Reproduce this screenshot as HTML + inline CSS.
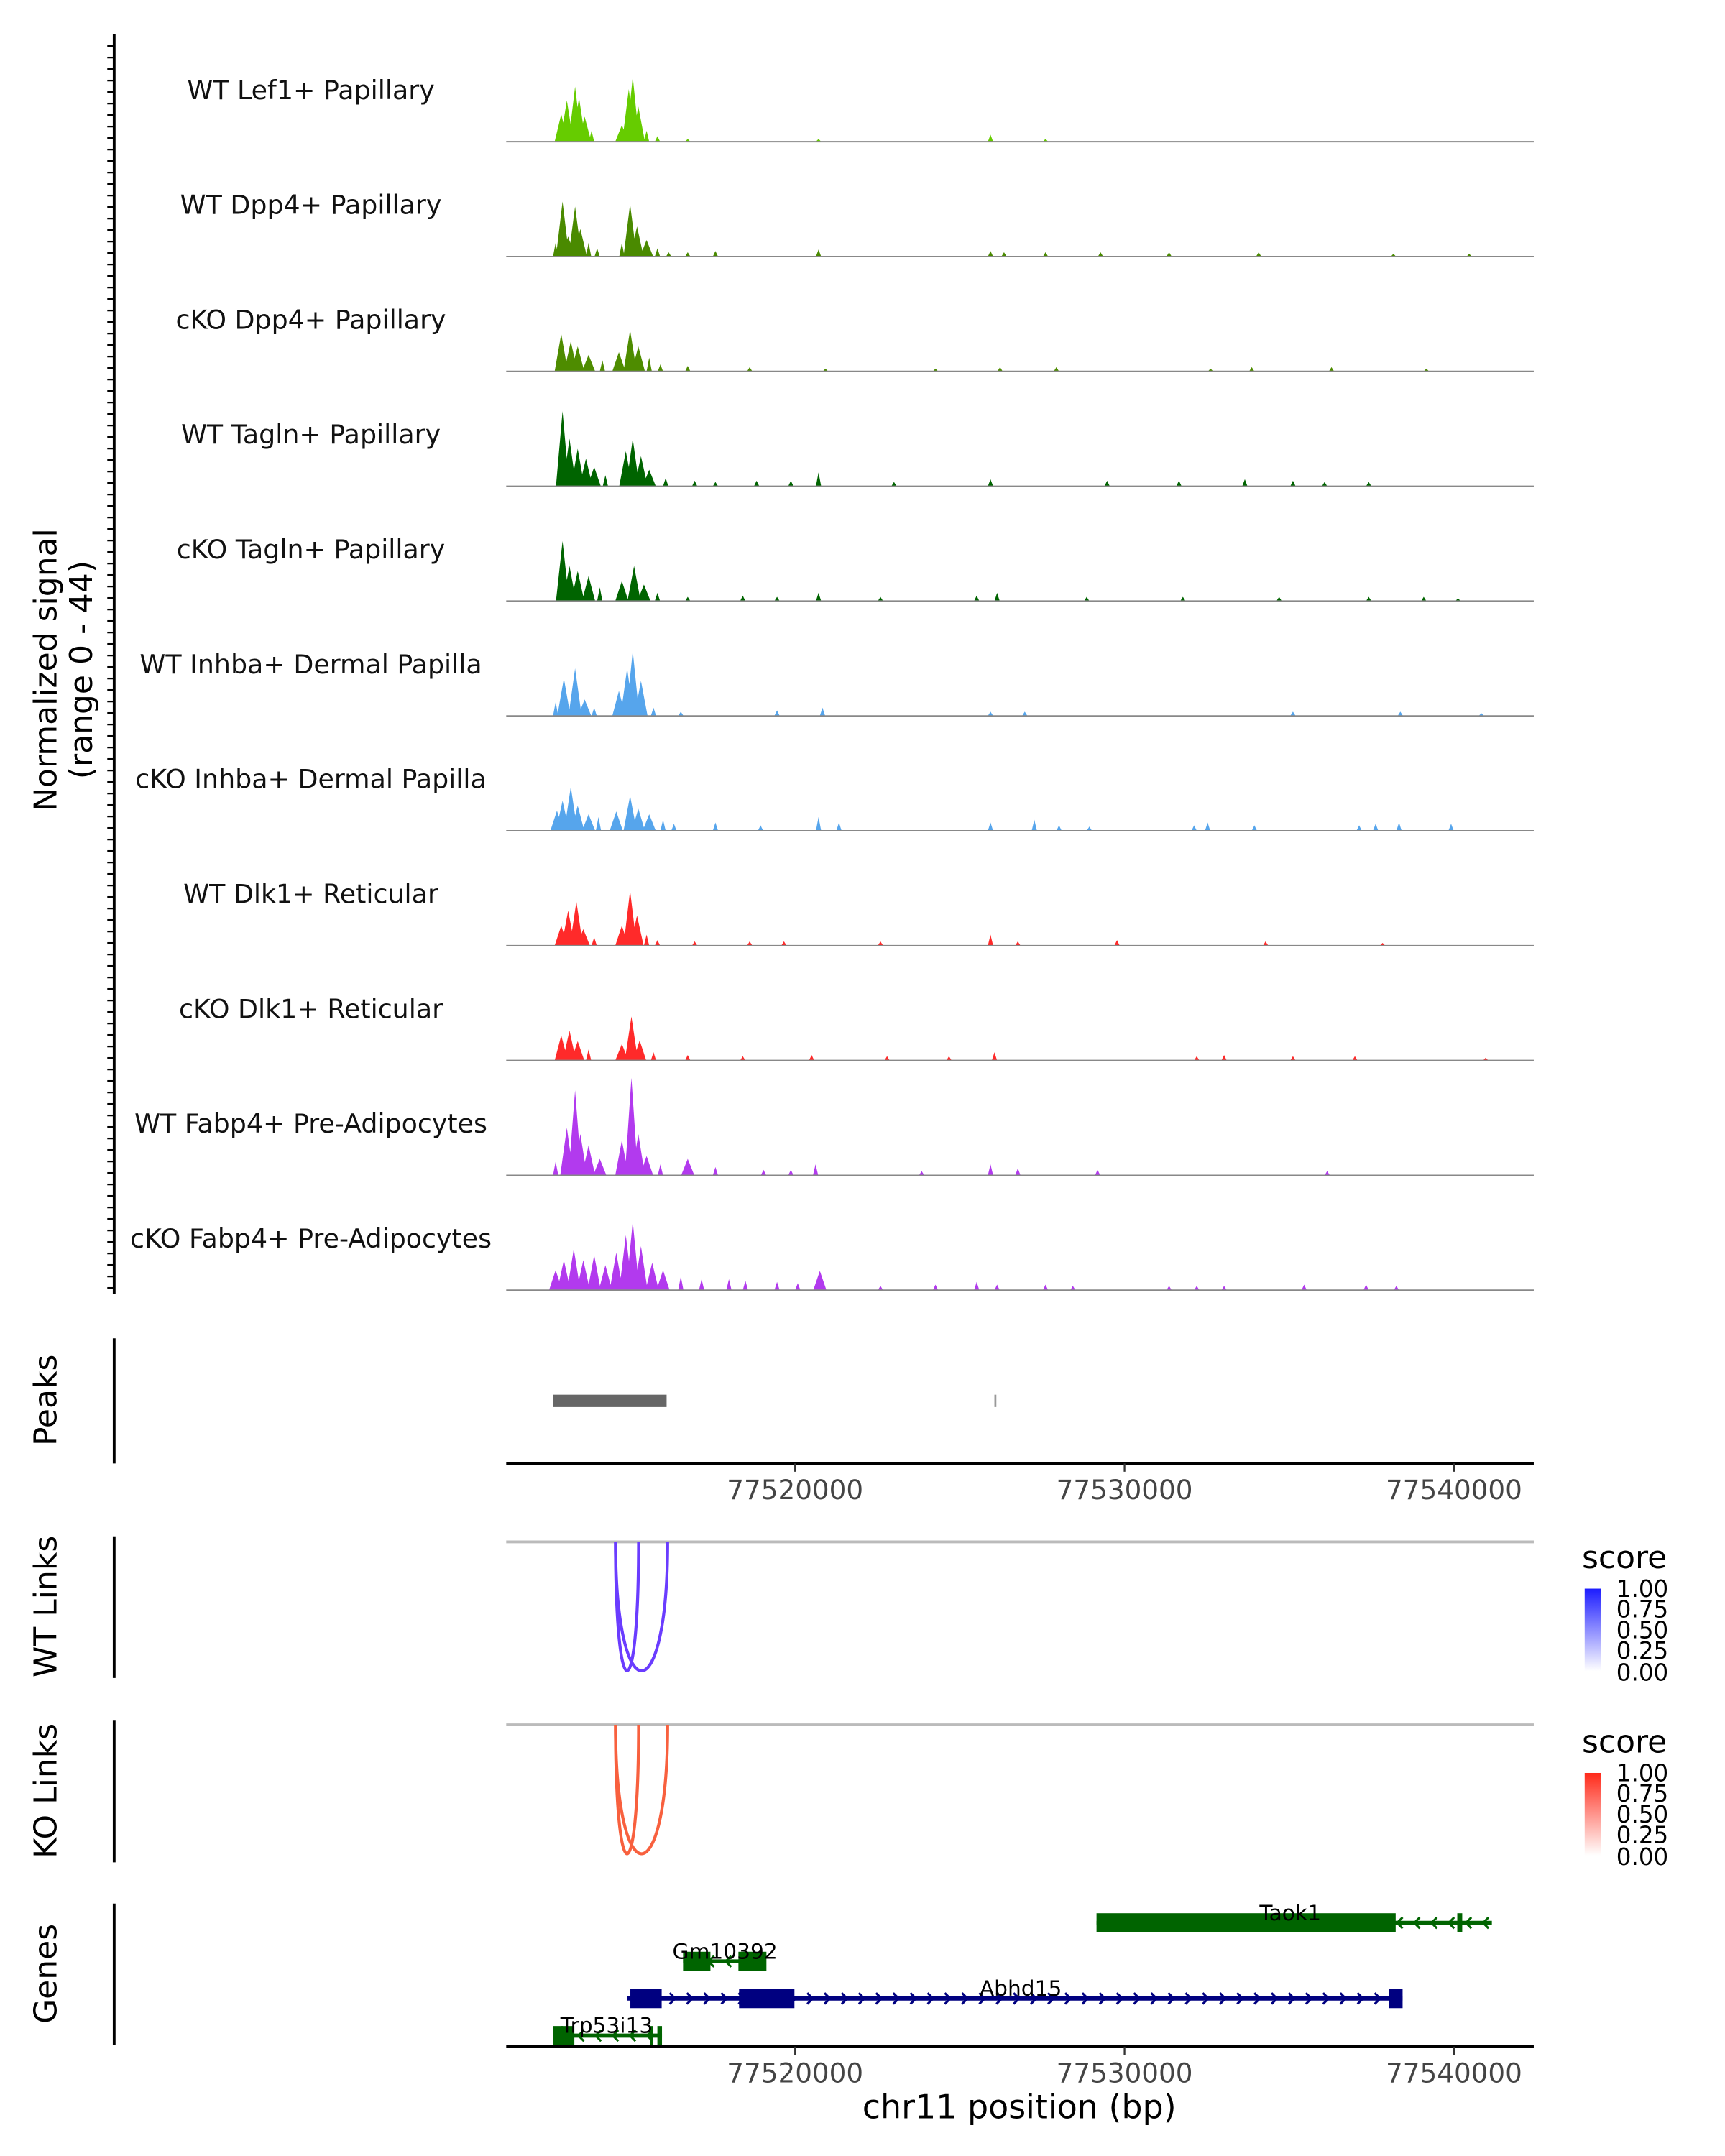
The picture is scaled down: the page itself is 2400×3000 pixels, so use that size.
<!DOCTYPE html>
<html><head><meta charset="utf-8"><style>
html,body{margin:0;padding:0;background:#fff;width:2400px;height:3000px;overflow:hidden;}
svg{display:block;font-family:"DejaVu Sans","Liberation Sans",sans-serif;}
</style></head><body>
<svg id="chart" width="2400" height="3000" viewBox="0 0 1254 1567.5" preserveAspectRatio="none" xmlns="http://www.w3.org/2000/svg">
<defs>
<linearGradient id="gBlue" x1="0" y1="1" x2="0" y2="0"><stop offset="0" stop-color="#ffffff"/><stop offset="1" stop-color="#1c1cff"/></linearGradient>
<linearGradient id="gRed" x1="0" y1="1" x2="0" y2="0"><stop offset="0" stop-color="#ffffff"/><stop offset="1" stop-color="#ff2a1a"/></linearGradient>
</defs>
<g id="tracks"></g>
<g id="leftaxis"></g>
<text transform="translate(41,487) rotate(-90)" text-anchor="middle" font-size="23" fill="#000">Normalized signal</text>
<text transform="translate(67,487) rotate(-90)" text-anchor="middle" font-size="23" fill="#000">(range 0 - 44)</text>

<line x1="83" y1="973" x2="83" y2="1064" stroke="#000" stroke-width="2"/>
<text transform="translate(41,1018) rotate(-90)" text-anchor="middle" font-size="23">Peaks</text>
<g id="peaks"></g>
<line x1="368" y1="1064" x2="1115" y2="1064" stroke="#000" stroke-width="2.2"/>
<g id="xaxis1"></g>

<line x1="83" y1="1117" x2="83" y2="1220" stroke="#000" stroke-width="2"/>
<text transform="translate(41,1168) rotate(-90)" text-anchor="middle" font-size="23">WT Links</text>
<line x1="368" y1="1121" x2="1115" y2="1121" stroke="#bbb" stroke-width="2"/>
<g id="wtlinks"></g>
<g font-size="17" fill="#000">
<text x="1150" y="1140" font-size="23">score</text>
<rect x="1152" y="1155" width="12" height="60" fill="url(#gBlue)"/>
<text x="1175" y="1161">1.00</text><text x="1175" y="1176">0.75</text><text x="1175" y="1191">0.50</text><text x="1175" y="1206">0.25</text><text x="1175" y="1222">0.00</text>
</g>

<line x1="83" y1="1251" x2="83" y2="1354" stroke="#000" stroke-width="2"/>
<text transform="translate(41,1302) rotate(-90)" text-anchor="middle" font-size="23">KO Links</text>
<line x1="368" y1="1254" x2="1115" y2="1254" stroke="#bbb" stroke-width="2"/>
<g id="kolinks"></g>
<g font-size="17" fill="#000">
<text x="1150" y="1274" font-size="23">score</text>
<rect x="1152" y="1289" width="12" height="60" fill="url(#gRed)"/>
<text x="1175" y="1295">1.00</text><text x="1175" y="1310">0.75</text><text x="1175" y="1325">0.50</text><text x="1175" y="1340">0.25</text><text x="1175" y="1356">0.00</text>
</g>

<line x1="83" y1="1384" x2="83" y2="1487" stroke="#000" stroke-width="2"/>
<text transform="translate(41,1435) rotate(-90)" text-anchor="middle" font-size="23">Genes</text>
<g id="genes"></g>
<line x1="368" y1="1488" x2="1115" y2="1488" stroke="#000" stroke-width="2.2"/>
<g id="xaxis2"></g>
<text x="741" y="1540" text-anchor="middle" font-size="24">chr11 position (bp)</text>
</svg>
<script>
const regionStart = 77511232, regionEnd = 77542422;
const trackNames = ["WT Lef1+ Papillary","WT Dpp4+ Papillary","cKO Dpp4+ Papillary","WT Tagln+ Papillary","cKO Tagln+ Papillary","WT Inhba+ Dermal Papilla","cKO Inhba+ Dermal Papilla","WT Dlk1+ Reticular","cKO Dlk1+ Reticular","WT Fabp4+ Pre-Adipocytes","cKO Fabp4+ Pre-Adipocytes"];
const trackColors = ["#66cc00","#4a8a00","#4e8c00","#006400","#006400","#56a5ec","#56a5ec","#ff2a2a","#ff2a2a","#b23aee","#b23aee"];
const yRangeMax = 44;
const pos0 = [1.67,1.84,2.09,2.21,2.38,2.59,3.51,3.72,3.84,4.01,4.26,4.59,5.51,9.48,14.70,16.37];
const val0 = [11,16.5,22,17.6,10,4.4,6.6,21,26,14,4.4,2.2,1.1,1.1,2.8,1.1];
const pos1 = [1.50,1.71,1.88,2.09,2.25,2.50,2.76,3.51,3.76,3.97,4.26,4.59,4.93,5.51,6.35,9.48,14.70,15.11,16.37,18.04,20.12,22.84,26.93,29.23];
const val1 = [5.5,22,8,20,11,5.5,3.3,5.5,21,12,6.6,3.3,1.7,1.7,2.2,2.8,2.2,1.7,1.7,1.7,1.7,1.7,1.1,1.1];
const pos2 = [1.67,1.96,2.17,2.50,2.92,3.42,3.76,4.01,4.34,4.68,5.51,7.39,9.69,13.03,14.99,16.70,21.38,22.63,25.05,27.93];
const val2 = [15,12,10,6.6,4.4,7.7,16.5,10,5.5,2.8,2.2,1.7,1.1,1.1,1.7,1.7,1.1,1.7,1.7,1.1];
const pos3 = [1.71,1.92,2.17,2.42,2.67,3.01,3.63,3.84,4.09,4.34,4.84,5.72,6.35,7.60,8.64,9.48,11.77,14.70,18.24,20.42,22.42,23.88,24.84,26.18];
const val3 = [30,19,15,11,7.7,4.4,14,19,12,6.6,3.3,2.2,1.7,2.2,2.2,5.5,1.7,2.8,2.2,2.2,2.8,2.2,1.7,1.7];
const pos4 = [1.71,1.92,2.17,2.50,2.84,3.51,3.88,4.18,4.59,5.51,7.18,8.22,9.48,11.36,14.28,14.90,17.62,20.54,23.46,26.18,27.85,28.89];
const val4 = [24,14,12,10,5.5,8,14,6.6,3.3,1.7,2.2,1.7,3.3,1.7,2.2,3.3,1.7,1.7,1.7,1.7,1.7,1.1];
const pos5 = [1.50,1.75,2.09,2.38,2.67,3.42,3.67,3.84,4.09,4.47,5.30,8.22,9.60,14.70,15.74,23.88,27.14,29.60];
const val5 = [5.5,15,19,6.6,3.3,10,19,26,14,3.3,1.7,2.2,3.3,1.7,1.7,1.7,1.7,1.1];
const pos6 = [1.54,1.71,1.96,2.17,2.50,2.80,3.34,3.76,4.01,4.34,4.76,5.09,6.35,7.72,9.48,10.10,14.70,16.03,16.78,17.70,20.88,21.29,22.71,25.89,26.39,27.10,28.68];
const val6 = [8,12,17.6,10,6.6,5.5,7.7,14,8.8,6.6,4.4,2.8,3.3,2.2,5.5,3.3,3.3,4.4,2.2,1.7,2.2,3.3,2.2,2.2,2.8,3.3,2.8];
const pos7 = [1.67,1.88,2.13,2.34,2.67,3.51,3.76,3.97,4.26,4.59,5.72,7.39,8.43,11.36,14.70,15.53,18.54,23.05,26.60];
const val7 = [8,14,17.6,6.6,3.3,8,22,12,4.4,2.2,1.7,1.7,1.7,1.7,4.4,1.7,2.2,1.7,1.1];
const pos8 = [1.67,1.92,2.17,2.50,3.51,3.80,4.05,4.47,5.51,7.18,9.27,11.56,13.44,14.82,20.96,21.79,23.88,25.76,29.73];
const val8 = [10,12,7.7,4.4,6.6,17.6,8,3.3,2.2,1.7,2.2,1.7,1.7,3.3,1.7,2.2,1.7,1.7,1.1];
const pos9 = [1.50,1.84,2.09,2.25,2.50,2.84,3.51,3.80,4.01,4.26,4.68,5.51,6.35,7.81,8.64,9.39,12.61,14.70,15.53,17.95,24.92];
const val9 = [5.5,19,34,16.5,12,6.6,14,39,16.5,7.7,4.4,6.6,3.3,2.2,2.2,4.4,1.7,4.4,2.8,2.2,1.7];
const pos10 = [1.50,1.75,2.05,2.34,2.67,3.01,3.34,3.63,3.84,4.09,4.43,4.76,5.30,5.93,6.76,7.26,8.22,8.85,9.52,11.36,13.03,14.28,14.90,16.37,17.20,20.12,20.96,21.79,24.22,26.10,27.02];
const val10 = [8,12,16.5,12,14,10,15,22,27.5,17.6,11,8,5.5,4.4,4.4,3.8,3.3,2.8,7.7,1.7,2.2,3.3,2.2,2.2,1.7,1.7,1.7,1.7,2.2,2.2,1.7];
const trackPos = [pos0,pos1,pos2,pos3,pos4,pos5,pos6,pos7,pos8,pos9,pos10];
const trackVal = [val0,val1,val2,val3,val4,val5,val6,val7,val8,val9,val10];
const xTicks = [77520000,77530000,77540000];
const peakStarts = [77512650,77526050];
const peakEnds = [77516100,77526110];
const wtLinkStart = [77514550,77514550];
const wtLinkEnd = [77515250,77516130];
const wtLinkScore = [0.7,0.7];
const koLinkStart = [77514550,77514550];
const koLinkEnd = [77515250,77516130];
const koLinkScore = [0.7,0.7];

const X0=368, X1=1115;
const xs = bp => X0 + (bp-regionStart)/(regionEnd-regionStart)*(X1-X0);
const xk = kb => xs(regionStart + kb*1000);
const baseTop = 103, trackStep = 83.5, trackH = 80;
const ys = (i,v) => baseTop + i*trackStep - v/yRangeMax*trackH;
const NS="http://www.w3.org/2000/svg";
function mk(tag, attrs, parent){const e=document.createElementNS(NS,tag);for(const k in attrs)e.setAttribute(k,attrs[k]);parent.appendChild(e);return e;}

const tg=document.getElementById('tracks');
trackNames.forEach((name,i)=>{
  const g=mk('g',{},tg);
  
  
  const base=ys(i,0);
  const t=mk('text',{x:226,y:base-31,'text-anchor':'middle','font-size':19,fill:'#111'},g);
  t.textContent=name;
  
  
  let d='';
  trackPos[i].forEach((p,j)=>{
    const v=trackVal[i][j]; const hw = v>6?0.2:0.08;
    d+=`M${xk(p-hw).toFixed(2)},${base}L${xk(p).toFixed(2)},${ys(i,v).toFixed(2)}L${xk(p+hw).toFixed(2)},${base}Z`;
  });
  const pa=mk('path',{d:d,fill:trackColors[i]},g);
  
  
  const ln=mk('line',{x1:X0,x2:X1,y1:base,y2:base,stroke:'#888','stroke-width':1},g);
  
  
});
const la=document.getElementById('leftaxis');
mk('line',{x1:83,y1:25,x2:83,y2:941,stroke:'#000','stroke-width':2},la);
for(let y=33.5;y<=940;y+=8.36){ mk('line',{x1:78,x2:83,y1:y,y2:y,stroke:'#000','stroke-width':1.2},la); }

const pk=document.getElementById('peaks');
peakStarts.forEach((s,i)=>{
  const r=mk('rect',{x:xs(s),y:1014,width:Math.max(1,xs(peakEnds[i])-xs(s)),height:9,fill:i==0?'#666':'#999'},pk);
  
  
});
function ticks(id,y){
  const g=document.getElementById(id);
  xTicks.forEach(v=>{
    const x=xs(v);
    mk('line',{x1:x,x2:x,y1:y,y2:y+6,stroke:'#333','stroke-width':1.2},g);
    const t=mk('text',{x:x,y:y+26,'text-anchor':'middle','font-size':19.5,fill:'#444'},g);
    t.textContent=v;
    
    
  });
}
ticks('xaxis1',1064); ticks('xaxis2',1488);
function links(id,s,e,sc,top,col){
  const g=document.getElementById(id);
  s.forEach((a,i)=>{
    const x1=xs(a),x2=xs(e[i]);
    const p=mk('path',{d:`M${x1},${top}C${x1},${top+125} ${x2},${top+125} ${x2},${top}`,fill:'none',stroke:col,'stroke-width':2.2},g);
    
    
  });
}
links('wtlinks',wtLinkStart,wtLinkEnd,wtLinkScore,1121,'#6a3cff');
links('kolinks',koLinkStart,koLinkEnd,koLinkScore,1254,'#f8603e');

const gg=document.getElementById('genes');
function gene(name,start,end,exS,exE,y,col,dir,lx){
  const g=mk('g',{},gg);
  
  
  mk('line',{x1:xs(start),x2:xs(end),y1:y,y2:y,stroke:col,'stroke-width':3},g);
  for(let x=xs(start)+8;x<xs(end)-4;x+=12.5){
    const d=dir>0?`M${x-2},${y-4}L${x+2},${y}L${x-2},${y+4}`:`M${x+2},${y-4}L${x-2},${y}L${x+2},${y+4}`;
    mk('path',{d:d,fill:'none',stroke:col,'stroke-width':1.6},g);
  }
  exS.forEach((s,i)=>mk('rect',{x:xs(s),y:y-7,width:xs(exE[i])-xs(s),height:14,fill:col},g));
  const t=mk('text',{x:lx,y:y-2,'text-anchor':'middle','font-size':15.5,fill:'#000'},g);
  t.textContent=name;
}
gene('Taok1',77529150,77541150,[77529150,77540100],[77538230,77540250],1398,'#006400',-1,938);
gene('Gm10392',77516600,77518300,[77516600,77518280],[77517430,77519130],1426,'#006400',-1,527);
gene('Abhd15',77514900,77538440,[77515000,77518300,77538030],[77515950,77519980,77538440],1453,'#000080',1,742);
gene('Trp53i13',77512650,77515960,[77512650,77512900,77515600,77515820],[77512950,77513300,77515680,77515960],1480,'#006400',-1,441);
</script>
</body></html>
